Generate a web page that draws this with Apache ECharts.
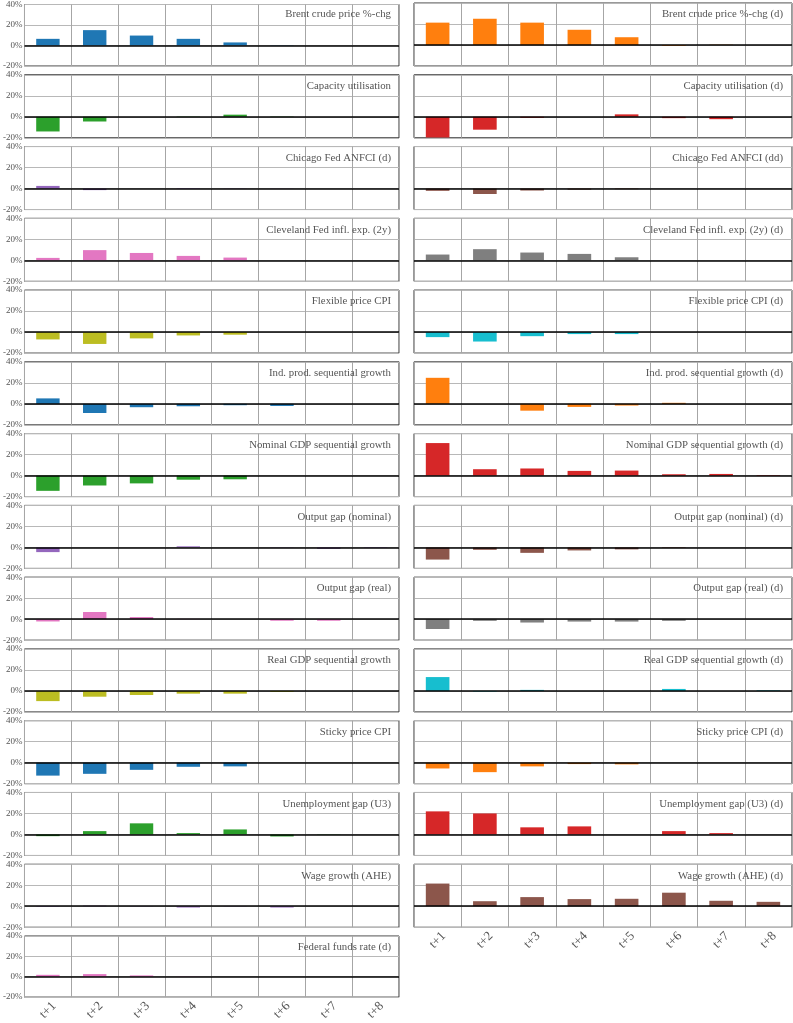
<!DOCTYPE html>
<html>
<head>
<meta charset="utf-8">
<script src="https://cdn.jsdelivr.net/npm/echarts@6/dist/echarts.min.js"></script>
<style>
  html, body { margin: 0; padding: 0; background: #fff; }
  #chart { width: 793px; height: 1023px; }
</style>
</head>
<body>
<div id="chart"></div>
<script>
// horizons on the x axis
const horizons = ['t+1', 't+2', 't+3', 't+4', 't+5', 't+6', 't+7', 't+8'];
const yTicks = [-20, 0, 20, 40];

// values in %
const brent        = [6.5, 15, 9.7, 6.5, 3, -0.3, 0, 0];
const brentD       = [21.3, 25, 21.3, 14.5, 7.4, -0.8, 0.3, 0];
const capUtil      = [-14, -4.5, 0, 0.3, 2, 0.3, 0, 0];
const capUtilD     = [-19.7, -12.3, -1, 0, 2.3, -1.3, -2.3, 0];
const anfciD       = [2.5, -1.5, 0, 0.5, 0.3, 0.2, 0, 0];
const anfciDD      = [-2.2, -5.2, -1.9, -1, -0.6, 0, 0, 0];
const clevInfl     = [2.3, 9.7, 7, 4.2, 2.6, 0, 0, 0];
const clevInflD    = [5.5, 10.6, 7.4, 6.1, 2.9, 0, 0, 0];
const flexCpi      = [-7, -11.3, -6, -3.2, -2.5, 0, 0, 0];
const flexCpiD     = [-4.8, -9, -3.9, -1.9, -1.9, 0, 0, 0];
const indProd      = [5.2, -8.7, -3.2, -2.3, -1.3, -2, 0, 0];
const indProdD     = [24.8, 0, -6.5, -2.9, -1.6, 1, 0, 0];
const nomGdp       = [-14.5, -9.4, -7.4, -3.9, -3.5, 0, 0, 0];
const nomGdpD      = [31, 6.1, 6.8, 4.5, 4.8, 1.3, 1.6, 0.6];
const gapNom       = [-4.5, 0, 0, 1, 0, -0.3, -1.3, -0.5];
const gapNomD      = [-11.6, -2.3, -5.2, -2.9, -1.9, -0.6, 0, 0];
const gapReal      = [-2.2, 6.8, 2, 0.3, 0, -1.5, -1.5, 0];
const gapRealD     = [-9.4, -1.6, -3.2, -2.3, -2.3, -1.6, 0, 0];
const realGdp      = [-9.7, -5.5, -3.9, -2.6, -2.6, -1, 0, 0];
const realGdpD     = [13.2, -0.6, 1, 0, 0, 1.9, 0, 0.6];
const stickyCpi    = [-12.3, -10.6, -6.8, -3.9, -3.5, 0, 0, 0];
const stickyCpiD   = [-5.5, -9, -3.5, -1.3, -1.6, 0, 0, 0];
const unempGap     = [-1.6, 3.2, 10.6, 1.3, 4.8, -1.9, -0.3, 0];
const unempGapD    = [22, 20, 6.8, 7.7, 0, 3.2, 1.3, 0];
const wage         = [-0.5, 0.5, -0.3, -1.2, -0.3, -1.2, 0, 0];
const wageD        = [21.6, 4.8, 8.7, 6.8, 7.1, 12.9, 5.2, 4.2];
const fedFundsD    = [1.9, 2.6, 1.3, 0.3, 0, 0, 0, 0];

const panels = [
  ['Brent crude price %-chg', brent],
  ['Brent crude price %-chg (d)', brentD],
  ['Capacity utilisation', capUtil],
  ['Capacity utilisation (d)', capUtilD],
  ['Chicago Fed ANFCI (d)', anfciD],
  ['Chicago Fed ANFCI (dd)', anfciDD],
  ['Cleveland Fed infl. exp. (2y)', clevInfl],
  ['Cleveland Fed infl. exp. (2y) (d)', clevInflD],
  ['Flexible price CPI', flexCpi],
  ['Flexible price CPI (d)', flexCpiD],
  ['Ind. prod. sequential growth', indProd],
  ['Ind. prod. sequential growth (d)', indProdD],
  ['Nominal GDP sequential growth', nomGdp],
  ['Nominal GDP sequential growth (d)', nomGdpD],
  ['Output gap (nominal)', gapNom],
  ['Output gap (nominal) (d)', gapNomD],
  ['Output gap (real)', gapReal],
  ['Output gap (real) (d)', gapRealD],
  ['Real GDP sequential growth', realGdp],
  ['Real GDP sequential growth (d)', realGdpD],
  ['Sticky price CPI', stickyCpi],
  ['Sticky price CPI (d)', stickyCpiD],
  ['Unemployment gap (U3)', unempGap],
  ['Unemployment gap (U3) (d)', unempGapD],
  ['Wage growth (AHE)', wage],
  ['Wage growth (AHE) (d)', wageD],
  ['Federal funds rate (d)', fedFundsD]
];

const tab10 = ['#1f77b4', '#ff7f0e', '#2ca02c', '#d62728', '#9467bd',
               '#8c564b', '#e377c2', '#7f7f7f', '#bcbd22', '#17becf'];

const FONT = '"Liberation Serif", "DejaVu Serif", serif';
const TXT = '#555';

const colLeft = [21, 414];
const plotW = 378;
const rowTop0 = 3, rowStep = 71.77, plotH = 63;

const grid = [], xAxis = [], yAxis = [], series = [], title = [];

panels.forEach(([name, values], i) => {
  const col = i % 2, row = Math.floor(i / 2);
  const top = rowTop0 + row * rowStep;
  const left = colLeft[col];
  // bottom panel in each column gets the horizon labels
  const lastInCol = (col === 0 && i === 26) || (col === 1 && i === 25);

  grid.push({
    left: left, top: top, width: plotW, height: plotH,
    show: true, borderColor: '#333', borderWidth: 1, backgroundColor: '#fff'
  });
  xAxis.push({
    type: 'category', gridIndex: i, data: horizons, boundaryGap: true,
    axisLine: { show: false }, axisTick: { show: false },
    splitLine: { show: true, interval: 0, lineStyle: { color: '#a6a6a6', width: 1 } },
    axisLabel: {
      show: lastInCol, interval: 0, rotate: 45, margin: 13,
      align: 'center', verticalAlign: 'middle',
      fontFamily: FONT, fontSize: 13, color: TXT
    }
  });
  yAxis.push({
    type: 'value', gridIndex: i, min: yTicks[0], max: yTicks[yTicks.length - 1], interval: 20,
    axisLine: { show: false }, axisTick: { show: false },
    splitLine: { show: true, lineStyle: { color: '#b8b8b8', width: 1 } },
    axisLabel: {
      show: col === 0, margin: 2, formatter: '{value}%',
      fontFamily: FONT, fontSize: 9, color: TXT
    }
  });
  series.push({
    type: 'bar', xAxisIndex: i, yAxisIndex: i, data: values,
    barWidth: '50%',
    itemStyle: { color: tab10[i % 10] },
    silent: true,
    markLine: {
      silent: true, symbol: 'none', label: { show: false },
      lineStyle: { color: '#000', width: 1.5, type: 'solid' },
      data: [{ yAxis: 0 }]
    }
  });
  title.push({
    text: name, right: col === 0 ? 793 - 391 : 10, top: top + 6, padding: 0,
    textStyle: { fontFamily: FONT, fontSize: 10.8, fontWeight: 'normal', color: TXT }
  });
});

const chart = echarts.init(document.getElementById('chart'), null, { renderer: 'canvas' });
chart.setOption({
  animation: false,
  backgroundColor: '#fff',
  title: title,
  grid: grid,
  xAxis: xAxis,
  yAxis: yAxis,
  series: series
});
</script>
</body>
</html>
